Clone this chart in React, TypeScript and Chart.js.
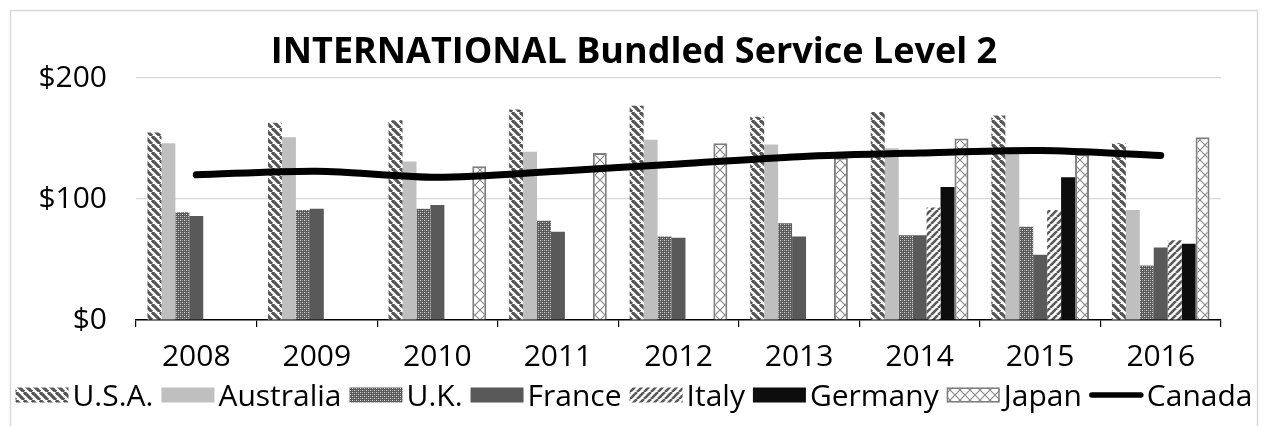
import React, { useEffect, useRef } from 'react';
import { Chart, registerables } from 'chart.js';

Chart.register(...registerables);

const years = ['2008', '2009', '2010', '2011', '2012', '2013', '2014', '2015', '2016'];
const usa = [155, 163, 165, 174, 177, 168, 172, 169, 146];
const australia = [146, 151, 131, 139, 149, 145, 142, 140, 91];
const uk = [89, 91, 92, 82, 69, 80, 70, 77, 45];
const france = [86, 92, 95, 73, 68, 69, 70, 54, 60];
const italy = [null, null, null, null, null, null, 93, 91, 66];
const germany = [null, null, null, null, null, null, 110, 118, 63];
const japan = [null, null, 127, 138, 146, 134, 150, 137, 151];
const canada = [120, 123, 118, 123, 129, 135, 138, 140, 136];
const yTicks = [0, 100, 200];
const chartTitle = 'INTERNATIONAL Bundled Service Level 2';

const FONT = "'Open Sans', sans-serif";

function makePattern(size: number, draw: (c: CanvasRenderingContext2D) => void): CanvasPattern | string {
  const cv = document.createElement('canvas');
  cv.width = size;
  cv.height = size;
  const c = cv.getContext('2d');
  if (!c) return '#777';
  draw(c);
  const p = c.createPattern(cv, 'repeat');
  return p || '#777';
}

export default function App() {
  const ref = useRef<HTMLCanvasElement | null>(null);

  useEffect(() => {
    document.body.style.margin = '0';
    const canvas = ref.current;
    if (!canvas) return;
    Chart.defaults.font.family = FONT;

    const usaPat = makePattern(8, (c) => {
      c.fillStyle = '#fff';
      c.fillRect(0, 0, 8, 8);
      c.strokeStyle = '#555';
      c.lineWidth = 3.2;
      for (const o of [-8, 0, 8]) {
        c.beginPath();
        c.moveTo(o, 0);
        c.lineTo(o + 8, 8);
        c.stroke();
      }
    });
    const ukPat = makePattern(4, (c) => {
      c.fillStyle = '#5a5a5a';
      c.fillRect(0, 0, 4, 4);
      c.fillStyle = '#d8d8d8';
      c.fillRect(0, 0, 1, 1);
      c.fillRect(2, 2, 1, 1);
      c.fillStyle = '#9a9a9a';
      c.fillRect(2, 0, 1, 1);
      c.fillRect(0, 2, 1, 1);
    });
    const italyPat = makePattern(7, (c) => {
      c.fillStyle = '#fff';
      c.fillRect(0, 0, 7, 7);
      c.strokeStyle = '#5a5a5a';
      c.lineWidth = 2.6;
      for (const o of [-7, 0, 7]) {
        c.beginPath();
        c.moveTo(o, 7);
        c.lineTo(o + 7, 0);
        c.stroke();
      }
    });
    const japanPat = makePattern(10, (c) => {
      c.fillStyle = '#fff';
      c.fillRect(0, 0, 10, 10);
      c.strokeStyle = '#8a8a8a';
      c.lineWidth = 1.2;
      c.beginPath();
      c.moveTo(0, 0);
      c.lineTo(10, 10);
      c.moveTo(10, 0);
      c.lineTo(0, 10);
      c.stroke();
    });

    const barCommon = { order: 1, borderWidth: 0, categoryPercentage: 0.81, barPercentage: 1.0 };

    const frame = {
      id: 'frame',
      beforeDraw(chart: any) {
        const c = chart.ctx;
        c.save();
        c.fillStyle = '#fff';
        c.fillRect(0, 0, chart.width, chart.height);
        c.strokeStyle = '#d9d9d9';
        c.lineWidth = 1.5;
        c.beginPath();
        c.moveTo(10.5, 430);
        c.lineTo(10.5, 10.5);
        c.lineTo(1257.5, 10.5);
        c.lineTo(1257.5, 430);
        c.stroke();
        c.restore();
      },
    };

    const legendFont = `30px ${FONT}`;
    const customLegend = {
      id: 'customLegend',
      afterDraw(chart: any) {
        const c = chart.ctx;
        c.save();
        c.font = legendFont;
        const dsets = chart.data.datasets as any[];
        const boxW = 53;
        const boxH = 15;
        const gap = 4;
        const itemGap = 8;
        const widths = dsets.map((d) => c.measureText(d.label).width);
        const total = widths.reduce((s, w) => s + boxW + gap + w, 0) + itemGap * (dsets.length - 1);
        const centerX = 634;
        const cy = 395;
        let x = centerX - total / 2;
        dsets.forEach((d, i) => {
          if (d.type === 'line') {
            c.strokeStyle = d.borderColor;
            c.lineWidth = 5.5;
            c.lineCap = 'round';
            c.beginPath();
            c.moveTo(x + 2, cy);
            c.lineTo(x + boxW - 2, cy);
            c.stroke();
          } else {
            c.fillStyle = d.backgroundColor;
            c.fillRect(x, cy - boxH / 2, boxW, boxH);
            if (d.borderWidth > 0) {
              c.strokeStyle = d.borderColor;
              c.lineWidth = 1.5;
              c.strokeRect(x + 0.75, cy - boxH / 2 + 0.75, boxW - 1.5, boxH - 1.5);
            }
          }
          c.fillStyle = '#000';
          c.textBaseline = 'alphabetic';
          c.textAlign = 'left';
          c.fillText(d.label, x + boxW + gap, cy + 0.714 * 30 / 2);
          x += boxW + gap + widths[i] + itemGap;
        });
        c.restore();
      },
    };

    const chart = new Chart(canvas, {
      type: 'bar',
      data: {
        labels: years,
        datasets: [
          { ...barCommon, label: 'U.S.A.', data: usa, backgroundColor: usaPat },
          { ...barCommon, label: 'Australia', data: australia, backgroundColor: '#bfbfbf' },
          { ...barCommon, label: 'U.K.', data: uk, backgroundColor: ukPat },
          { ...barCommon, label: 'France', data: france, backgroundColor: '#595959' },
          { ...barCommon, label: 'Italy', data: italy, backgroundColor: italyPat },
          { ...barCommon, label: 'Germany', data: germany, backgroundColor: '#0d0d0d' },
          { ...barCommon, label: 'Japan', data: japan, backgroundColor: japanPat, borderWidth: 2, borderColor: '#7f7f7f' },
          {
            type: 'line',
            order: 0,
            label: 'Canada',
            data: canada,
            borderColor: '#000',
            backgroundColor: '#000',
            borderWidth: 7,
            pointRadius: 0,
            tension: 0.3,
            borderCapStyle: 'round',
            fill: false,
          } as any,
        ],
      },
      options: {
        responsive: false,
        animation: false,
        devicePixelRatio: 1,
        layout: { padding: { top: 10, left: 10, right: 6, bottom: 50 } },
        scales: {
          x: {
            grid: { display: true, drawOnChartArea: false, drawTicks: true, tickLength: 7, color: '#000', lineWidth: 1.2 },
            border: { display: true, color: '#000', width: 1.5 },
            ticks: { color: '#000', padding: 12, font: { family: FONT, size: 30 } },
            afterFit(s: any) {
              s.height = 56;
            },
          },
          y: {
            min: 0,
            max: 200,
            afterBuildTicks(s: any) {
              s.ticks = yTicks.map((v) => ({ value: v }));
            },
            grid: { color: '#d9d9d9', lineWidth: 1.2, drawTicks: false },
            border: { display: false },
            ticks: {
              color: '#000',
              padding: 29,
              font: { family: FONT, size: 30 },
              callback: (v: any) => '$' + v,
            },
            afterFit(s: any) {
              s.width = 126;
            },
          },
          y2: {
            position: 'right',
            display: true,
            grid: { display: false },
            ticks: { display: false },
            border: { display: false },
            afterFit(s: any) {
              s.width = 37;
            },
          },
        },
        plugins: {
          title: {
            display: true,
            text: chartTitle,
            color: '#000',
            font: { family: FONT, size: 36, weight: 'bold' },
            padding: { top: 21, bottom: 3.8 },
          },
          legend: { display: false },
          tooltip: { enabled: false },
        },
      },
      plugins: [frame, customLegend],
    } as any);

    return () => chart.destroy();
  }, []);

  return <canvas ref={ref} width={1264} height={426} style={{ display: 'block' }} />;
}
